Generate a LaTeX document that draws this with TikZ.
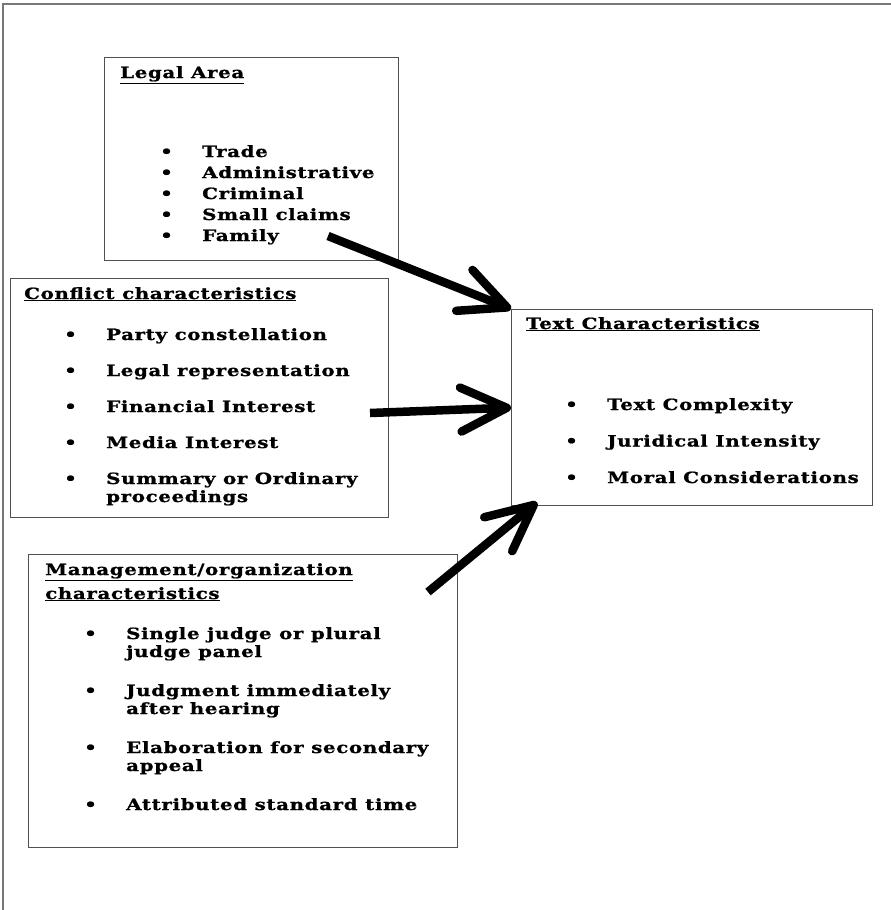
\documentclass[tikz,border=0pt]{standalone}
\usepackage{fontspec}
\setmainfont{DejaVu Serif}[LetterSpace=4, FakeStretch=1.28, BoldFeatures={FakeBold=1}]
\usetikzlibrary{
    arrows.meta,
    positioning
}
\definecolor{FrameGray}{RGB}{120,120,120}
\definecolor{BoxGray}{RGB}{80,80,80}
\newcommand{\txtfont}{\fontsize{15.5}{18}\selectfont\bfseries}

\begin{document}
\begin{tikzpicture}[
    x=1pt, y=-1pt,
    panel/.style={draw=BoxGray, line width=1.3pt, anchor=north west, inner sep=0pt},
    head/.style={anchor=base west, inner sep=0pt, font=\txtfont, align=left},
    items/.style={anchor=base west, inner sep=0pt, font=\txtfont},
    bigarrow/.style={line width=8.5pt, -{Straight Barb[length=46pt, width=44pt, round]}}
]
\useasboundingbox (0,0) rectangle (891,910);

% Frame
\draw[FrameGray, line width=1.5pt] (3,910) -- (3,4) -- (891,4);

% Boxes
\node[panel, minimum width=294pt, minimum height=203pt] (legal) at (104,57) {};
\node[panel, minimum width=378pt, minimum height=239pt] (conflict) at (10,278) {};
\node[panel, minimum width=361pt, minimum height=196pt] (text) at (511,309) {};
\node[panel, minimum width=429pt, minimum height=293pt] (manage) at (28,554) {};

% Headings
\node[head] (legalhead) at (120,78) {\underline{Legal Area}};
\node[head] (conflicthead) at (24,299) {\underline{Conflict characteristics}};
\node[head] (texthead) at (526,329) {\underline{Text Characteristics}};
\node[head] (managehead) at (45,599)
    {\underline{Management/organization}\\[6pt]\underline{characteristics}};

% Lists
\node[items] (legallist) at (160,157) {%
\begin{tabular}[t]{@{}p{42pt}@{}l@{}}
\textbullet & Trade\\[3pt]
\textbullet & Administrative\\[3pt]
\textbullet & Criminal\\[3pt]
\textbullet & Small claims\\[3pt]
\textbullet & Family
\end{tabular}};

\node[items] (conflictlist) at (64,340) {%
\begin{tabular}[t]{@{}p{42pt}@{}l@{}}
\textbullet & Party constellation\\[18pt]
\textbullet & Legal representation\\[18pt]
\textbullet & Financial Interest\\[18pt]
\textbullet & Media Interest\\[18pt]
\textbullet & Summary or Ordinary\\
            & proceedings
\end{tabular}};

\node[items] (textlist) at (565,410) {%
\begin{tabular}[t]{@{}p{42pt}@{}l@{}}
\textbullet & Text Complexity\\[18.5pt]
\textbullet & Juridical Intensity\\[18.5pt]
\textbullet & Moral Considerations
\end{tabular}};

\node[items] (managelist) at (84,639) {%
\begin{tabular}[t]{@{}p{42pt}@{}l@{}}
\textbullet & Single judge or plural\\
            & judge panel\\[21pt]
\textbullet & Judgment immediately\\
            & after hearing\\[21pt]
\textbullet & Elaboration for secondary\\
            & appeal\\[21pt]
\textbullet & Attributed standard time
\end{tabular}};

% Arrows
\coordinate (legalstart) at (328,236);
\coordinate (conflictstart) at (370,413);
\coordinate (managestart) at (428,592);

\draw[bigarrow] (legalstart) -- (text.north west);
\draw[bigarrow] (conflictstart) -- (text.west);
\draw[bigarrow] (managestart) -- ([xshift=26pt, yshift=4pt]text.south west);

\end{tikzpicture}
\end{document}
